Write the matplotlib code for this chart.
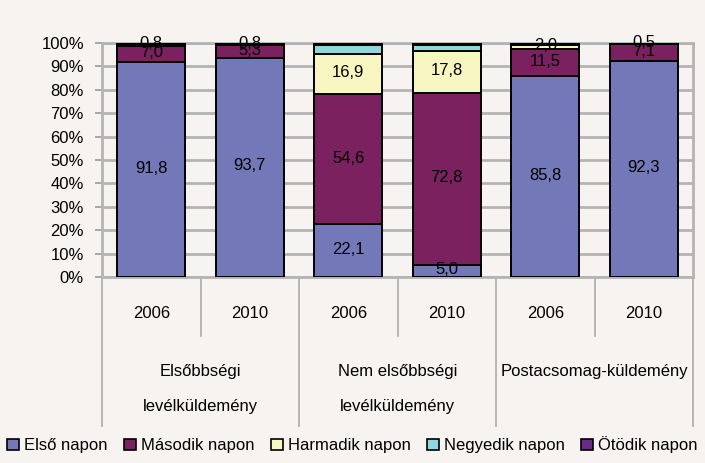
import numpy as np
import matplotlib

matplotlib.use("Agg")
import matplotlib.pyplot as plt
from matplotlib.transforms import blended_transform_factory
from matplotlib.patches import Patch

plt.rcParams["font.family"] = ["Liberation Sans Narrow", "Liberation Sans", "DejaVu Sans"]

# --- data -------------------------------------------------------------------
years = ["2006", "2010", "2006", "2010", "2006", "2010"]
groups = ["Elsőbbségi\nlevélküldemény", "Nem elsőbbségi\nlevélküldemény", "Postacsomag-küldemény"]
series = ["Első napon", "Második napon", "Harmadik napon", "Negyedik napon", "Ötödik napon"]
elso = [91.8, 93.7, 22.1, 5.0, 85.8, 92.3]
masodik = [7.0, 5.3, 54.6, 72.8, 11.5, 7.1]
harmadik = [0.8, 0.8, 16.9, 17.8, 2.0, 0.5]
negyedik = [0.2, 0.1, 3.7, 2.6, 0.5, 0.1]
otodik = [0.2, 0.1, 1.0, 0.8, 0.2, 0.0]
labeled = [True, True, True, False, False]

colors = ["#7378b8", "#7b2160", "#f8f6c0", "#90d6de", "#6a2b88"]
BG = "#f6f3f0"
GRID = "#b4b4b4"

vals = np.array([elso, masodik, harmadik, negyedik, otodik])
pct = vals / vals.sum(axis=0) * 100

fig = plt.figure(figsize=(7.05, 4.63), dpi=100, facecolor=BG)
W, H = 705, 463
ax = fig.add_axes([102 / W, (H - 277) / H, (693 - 102) / W, (277 - 43) / H])
ax.set_facecolor(BG)

x = np.arange(len(years))
bottom = np.zeros(len(years))
for i, name in enumerate(series):
    ax.bar(x, pct[i], 0.69, bottom=bottom, color=colors[i], edgecolor="black",
           linewidth=1.4, label=name, zorder=3)
    if labeled[i]:
        for j in range(len(x)):
            ax.text(x[j], bottom[j] + pct[i][j] / 2 + 0.6,
                    f"{vals[i][j]:.1f}".replace(".", ","),
                    ha="center", va="center", fontsize=12, zorder=4)
    bottom += pct[i]

ax.set_xlim(-0.5, 5.5)
ax.set_ylim(0, 100)
ax.set_yticks(np.arange(0, 101, 10))
ax.set_yticklabels([f"{v}%" for v in range(0, 101, 10)], fontsize=12)
ax.yaxis.grid(True, color=GRID, lw=2)
ax.set_axisbelow(True)
ax.set_xticks([])
for s in ax.spines.values():
    s.set_color(GRID)
    s.set_linewidth(2)
ax.tick_params(axis="y", length=5, width=1.2, color="#999999", pad=8)

# two-level category axis
tr = blended_transform_factory(ax.transData, ax.transAxes)
for xs in [0.5, 2.5, 4.5]:
    ax.plot([xs, xs], [0, -0.25], color="#aaaaaa", lw=1.2, transform=tr, clip_on=False)
for xs in [-0.5, 1.5, 3.5, 5.5]:
    ax.plot([xs, xs], [0, -0.635], color="#aaaaaa", lw=1.2, transform=tr, clip_on=False)
for j, yr in enumerate(years):
    ax.text(x[j], -0.155, yr, ha="center", va="center", fontsize=12, transform=tr)
for k, g in enumerate(groups):
    lines = g.split("\n")
    for m, ln in enumerate(lines):
        ax.text(2 * k + 0.5, -0.405 - 0.15 * m, ln, ha="center", va="center",
                fontsize=12, transform=tr)

handles = [Patch(facecolor=c, edgecolor="black", lw=1.2) for c in colors]
fig.legend(handles, series, loc="center", bbox_to_anchor=(0.5, (H - 445) / H),
           ncol=5, frameon=False, fontsize=12, handlelength=0.7, handleheight=0.7,
           handletextpad=0.3, columnspacing=1.0, borderaxespad=0, borderpad=0)

fig.savefig("out.png", dpi=100, facecolor=BG)
